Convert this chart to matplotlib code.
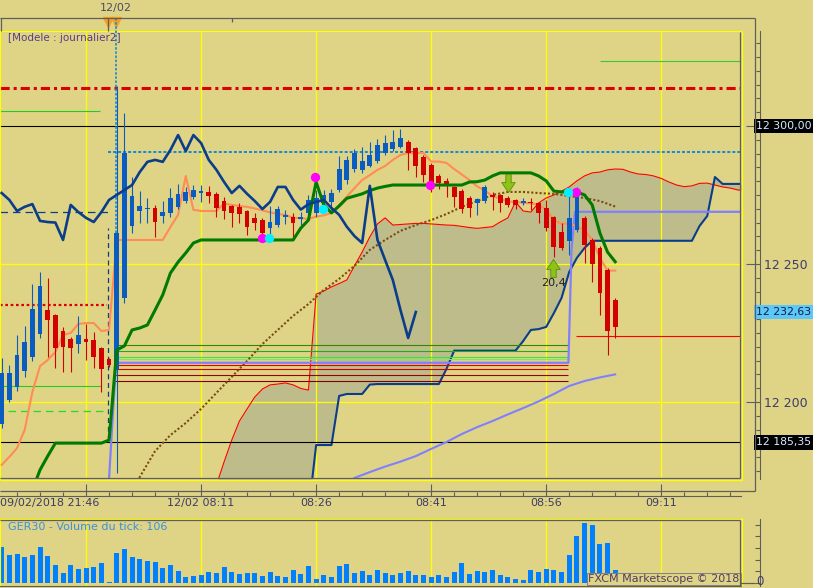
import matplotlib.pyplot as plt
import numpy as np
from matplotlib.path import Path
from matplotlib.ticker import FixedLocator, MultipleLocator, FuncFormatter

plt.rcParams['font.family'] = ['DejaVu Sans']

BG = '#dfd486'
GRAY = '#5e5e5e'
YEL = '#ffff00'
BLUE = '#0a5cc0'
RED = '#d40000'
NAVY = '#0b3d8a'

# ---- data: GER30, 1 minute bars (index 0 = Friday 09/02 21:35 ... 80 = Monday 12/02 09:05)
bars = np.arange(81)
opens = [12192.0, 12200.7, 12205.5, 12211.2, 12216.4, 12224.6, 12233.3, 12231.5, 12225.7, 12222.7,
         12221.1, 12222.7, 12222.5, 12219.5, 12215.5, 12211.6, 12237.8, 12263.9, 12269.3, 12270.0,
         12270.4, 12267.5, 12268.4, 12270.8, 12272.9, 12274.4, 12275.6, 12276.1, 12275.4, 12272.9,
         12271.0, 12270.5, 12269.2, 12266.8, 12265.9, 12263.2, 12264.1, 12266.9, 12267.1, 12266.2,
         12268.4, 12268.4, 12272.0, 12272.6, 12276.8, 12280.4, 12284.3, 12284.1, 12285.5, 12287.3,
         12290.1, 12291.6, 12292.5, 12294.3, 12291.9, 12288.9, 12285.9, 12281.9, 12280.1, 12277.8,
         12276.6, 12273.8, 12272.0, 12272.9, 12275.0, 12275.0, 12273.8, 12273.2, 12272.0, 12272.3,
         12272.0, 12270.2, 12266.9, 12261.7, 12258.4, 12262.3, 12266.6, 12258.7, 12255.7, 12247.8,
         12237.0]
highs = [12215.9, 12213.4, 12224.3, 12227.6, 12242.6, 12247.0, 12244.8, 12232.0, 12227.3, 12223.5,
         12231.2, 12228.2, 12225.4, 12220.0, 12216.0, 12314.5, 12304.7, 12281.6, 12276.6, 12273.8,
         12271.5, 12272.8, 12277.6, 12279.0, 12278.0, 12278.6, 12278.6, 12278.3, 12276.0, 12274.4,
         12271.5, 12272.2, 12269.5, 12268.4, 12266.5, 12271.0, 12271.0, 12269.6, 12268.4, 12268.9,
         12275.0, 12276.8, 12276.8, 12277.1, 12289.1, 12289.1, 12291.6, 12292.5, 12294.3, 12295.2,
         12296.7, 12298.5, 12298.8, 12295.0, 12292.5, 12289.5, 12286.5, 12282.5, 12281.0, 12278.3,
         12277.0, 12274.5, 12274.0, 12278.6, 12276.0, 12275.5, 12274.6, 12273.6, 12273.8, 12273.8,
         12272.5, 12273.2, 12267.5, 12265.0, 12275.6, 12278.0, 12267.5, 12259.5, 12256.5, 12248.5,
         12237.5]
lows = [12190.6, 12200.0, 12204.0, 12209.0, 12215.0, 12223.0, 12216.4, 12212.4, 12211.0, 12211.0,
        12217.6, 12215.2, 12212.2, 12203.5, 12212.7, 12174.3, 12236.0, 12261.2, 12265.0, 12265.0,
        12259.7, 12264.9, 12267.0, 12270.0, 12272.0, 12273.5, 12272.4, 12272.0, 12266.9, 12266.2,
        12263.5, 12265.0, 12260.5, 12262.3, 12259.3, 12260.5, 12263.5, 12264.5, 12259.7, 12264.1,
        12267.5, 12267.0, 12271.0, 12269.6, 12276.0, 12279.0, 12283.5, 12283.0, 12285.0, 12286.5,
        12289.5, 12291.0, 12292.0, 12284.1, 12281.6, 12279.8, 12276.2, 12277.1, 12274.4, 12270.8,
        12268.4, 12266.9, 12267.8, 12272.0, 12269.6, 12269.0, 12270.5, 12269.8, 12271.4, 12269.6,
        12264.7, 12262.0, 12252.6, 12255.0, 12253.3, 12261.5, 12250.3, 12243.6, 12231.5, 12217.0,
        12223.1]
closes = [12210.5, 12210.6, 12217.1, 12221.7, 12233.7, 12242.0, 12229.7, 12219.5, 12219.8, 12219.7,
          12224.3, 12221.7, 12216.4, 12211.8, 12213.4, 12261.3, 12290.3, 12274.6, 12271.0, 12270.3,
          12265.3, 12268.8, 12274.0, 12275.4, 12276.1, 12276.8, 12276.6, 12274.7, 12270.4, 12269.3,
          12268.6, 12268.1, 12263.5, 12264.7, 12261.1, 12265.1, 12269.9, 12267.6, 12264.7, 12266.9,
          12273.2, 12273.8, 12275.0, 12275.8, 12284.4, 12287.7, 12290.1, 12287.3, 12289.5, 12293.1,
          12293.7, 12294.3, 12295.5, 12290.1, 12285.6, 12282.2, 12279.5, 12279.2, 12278.6, 12274.2,
          12269.8, 12270.2, 12273.4, 12278.0, 12274.4, 12272.0, 12271.4, 12271.4, 12272.9, 12272.1,
          12268.4, 12262.9, 12256.1, 12255.7, 12266.6, 12275.6, 12256.9, 12250.0, 12239.6, 12225.8,
          12227.3]
volumes = [310, 241, 250, 222, 241, 310, 233, 155, 86, 155,
           121, 129, 135, 172, 9, 259, 293, 224, 204, 190,
           178, 127, 155, 101, 49, 60, 66, 92, 84, 135,
           92, 78, 84, 84, 58, 92, 58, 49, 109, 78,
           144, 32, 66, 49, 144, 164, 86, 101, 66, 109,
           86, 66, 86, 101, 66, 66, 49, 66, 49, 92,
           172, 78, 101, 92, 109, 66, 49, 32, 23, 109,
           92, 118, 109, 92, 239, 403, 517, 497, 334, 342,
           106]

# Ichimoku lines
tenkan = [12177.2, 12180.1, 12183.3, 12189.9, 12203.6, 12213.0, 12215.2, 12218.1, 12224.3, 12225.0,
          12228.3, 12228.6, 12228.6, 12225.7, 12226.1, 12258.7, 12258.7, 12258.7, 12258.7, 12258.7,
          12258.7, 12258.7, 12263.4, 12267.8, 12281.9, 12269.6, 12269.2, 12269.2, 12269.2, 12271.9,
          12271.4, 12271.0, 12270.7, 12270.1, 12269.4, 12268.7, 12268.1, 12267.8, 12266.7, 12266.6,
          12266.3, 12267.2, 12267.6, 12268.5, 12271.4, 12274.4, 12277.5, 12280.4, 12282.2, 12284.1,
          12285.5, 12287.7, 12289.5, 12290.2, 12290.2, 12290.2, 12287.1, 12287.1, 12286.6, 12284.4,
          12282.4, 12280.4, 12278.1, 12276.6, 12274.6, 12273.7, 12272.6, 12272.5, 12272.1, 12272.0,
          12271.4, 12269.7, 12265.9, 12264.5, 12264.7, 12263.6, 12262.3, 12258.7, 12252.2, 12247.6,
          12247.6]
kijun_bars = np.arange(4, 81)
kijun = [12168.1, 12175.4, 12180.4, 12185.1, 12185.1, 12185.1, 12185.1, 12185.1, 12185.1, 12185.1,
         12186.2, 12218.8, 12220.3, 12226.1, 12226.8, 12227.9, 12233.3, 12238.8, 12246.7, 12250.7,
         12254.0, 12257.6, 12258.7, 12258.7, 12258.7, 12258.7, 12258.7, 12258.7, 12258.7, 12258.7,
         12258.7, 12258.7, 12258.7, 12258.7, 12258.7, 12263.0, 12265.9, 12279.7, 12271.4, 12268.5,
         12271.0, 12273.8, 12274.6, 12275.4, 12276.6, 12277.5, 12278.1, 12278.6, 12278.6, 12278.6,
         12278.6, 12278.6, 12278.6, 12278.6, 12278.6, 12278.6, 12278.6, 12279.7, 12279.8, 12280.4,
         12281.9, 12283.0, 12283.0, 12283.0, 12283.0, 12283.0, 12281.9, 12280.1, 12276.4, 12276.1,
         12276.1, 12276.1, 12275.0, 12271.4, 12261.2, 12254.3, 12250.8]
chikou_bars = np.arange(55)
chikou = [12275.7, 12273.2, 12269.2, 12270.7, 12271.7, 12265.6, 12265.2, 12265.0, 12258.7, 12271.4,
          12268.8, 12266.7, 12265.2, 12268.8, 12273.2, 12275.0, 12276.8, 12278.6, 12283.3, 12287.0,
          12287.7, 12287.0, 12291.3, 12296.7, 12290.9, 12296.7, 12293.8, 12287.7, 12284.1, 12279.7,
          12275.7, 12278.3, 12275.4, 12272.8, 12269.9, 12272.5, 12277.9, 12277.9, 12273.2, 12269.7,
          12271.7, 12272.5, 12273.2, 12270.3, 12267.8, 12263.5, 12260.1, 12257.6, 12278.3, 12258.7,
          12251.4, 12244.2, 12233.3, 12223.2, 12232.6]
senkou_bars = np.arange(28, 98)
senkou_a = [12169.9, 12178.3, 12186.2, 12193.1, 12197.5, 12201.8, 12204.7, 12206.2, 12206.5, 12206.9,
            12206.2, 12204.9, 12204.3, 12239.1, 12240.2, 12241.7, 12242.9, 12244.2, 12249.3, 12254.3,
            12259.8, 12264.5, 12266.7, 12264.1, 12264.3, 12264.5, 12264.7, 12264.7, 12264.5, 12264.3,
            12264.1, 12264.0, 12263.6, 12263.2, 12262.9, 12263.2, 12263.5, 12265.2, 12266.7, 12272.5,
            12269.2, 12268.8, 12272.1, 12273.9, 12275.0, 12276.4, 12277.9, 12280.1, 12281.9, 12283.0,
            12283.3, 12284.1, 12284.4, 12284.3, 12283.3, 12282.6, 12282.4, 12281.9, 12281.0, 12279.7,
            12278.6, 12278.0, 12278.3, 12279.2, 12279.3, 12278.6, 12277.9, 12277.5, 12276.8, 12276.8]
senkou_b = [12160.0, 12160.0, 12160.0, 12160.0, 12160.0, 12160.0, 12160.0, 12160.0, 12160.0, 12160.0,
            12160.0, 12160.0, 12160.0, 12184.4, 12184.4, 12184.4, 12202.2, 12202.9, 12202.9, 12202.9,
            12206.3, 12206.5, 12206.5, 12206.5, 12206.5, 12206.5, 12206.5, 12206.5, 12206.5, 12206.5,
            12212.0, 12218.6, 12218.6, 12218.6, 12218.6, 12218.6, 12218.6, 12218.6, 12218.6, 12218.6,
            12222.1, 12226.1, 12226.4, 12227.2, 12232.2, 12237.7, 12247.1, 12252.2, 12255.8, 12258.4,
            12258.4, 12258.4, 12258.4, 12258.4, 12258.4, 12258.4, 12258.4, 12258.4, 12258.4, 12258.4,
            12258.4, 12258.4, 12258.4, 12263.8, 12267.4, 12281.5, 12279.0, 12279.0, 12279.0, 12279.0]

# moving averages (every second bar)
ma_slow_bars = np.arange(16, 81, 2)
ma_slow = [12163.4, 12172.8, 12182.2, 12188.0, 12192.4, 12197.5, 12203.3, 12209.1, 12214.9, 12221.0,
           12226.1, 12231.2, 12235.5, 12240.6, 12244.6, 12249.3, 12255.1, 12258.7, 12262.0, 12264.1,
           12265.9, 12268.1, 12270.7, 12272.8, 12275.0, 12276.1, 12276.1, 12275.7, 12275.4, 12274.6,
           12273.9, 12272.8, 12270.8]
ma_low_bars = np.arange(46, 81, 2)
ma_low = [12172.5, 12174.6, 12176.6, 12178.4, 12180.4, 12183.0, 12185.5, 12188.4, 12190.9, 12193.1,
          12195.5, 12197.8, 12200.2, 12202.9, 12205.8, 12207.6, 12208.9, 12210.0]
step_bars = [13.95, 14.9, 73.9, 74.3, 74.75, 97.0]
step_vals = [12170.0, 12214.2, 12214.2, 12255.1, 12268.9, 12268.9]

# horizontal levels
week_break = 13.9
friday_levels = [12305.4, 12268.9, 12235.1, 12205.9, 12196.7]
stack_levels = [12220.6, 12218.4, 12216.2, 12215.5, 12213.3, 12211.8, 12209.7, 12207.5]
stack_span = (14.8, 73.9)
pivot_red = 12313.8
box_prices = [12300.00, 12232.63, 12185.35]
dotted_level = 12290.5
upper_green = 12323.5
order_level = 12223.9

# signals
magenta_pts = ([33.9, 40.85, 55.84, 74.9], [12259.3, 12281.6, 12278.6, 12276.0])
cyan_pts = ([34.9, 41.85, 73.9], [12259.3, 12269.9, 12276.0])
sell_arrow = (66.0, 12279.2)
buy_arrow = (71.9, 12248.4, '20,4')

grid_bars = [11, 26, 41, 56, 71, 86]
time_labels = ['09/02/2018 21:46', '12/02 08:11', '08:26', '08:41', '08:56', '09:11']

# ---------------------------------------------------------------
fig = plt.figure(figsize=(8.13, 5.88), dpi=100, facecolor=BG)
ax = fig.add_axes([0, 109 / 588, 741 / 813, 448 / 588], facecolor=BG)
vax = fig.add_axes([0, 2 / 588, 741 / 813, 67 / 588], facecolor=BG)

xlim = (-0.22, 96.4)
ax.set_xlim(*xlim)
ax.set_ylim(12172.1, 12334.4)

# cloud
ax.fill_between(senkou_bars, senkou_a, senkou_b, color='#bebc8b', lw=0, zorder=1)
ax.plot(senkou_bars, senkou_a, color='#ff0000', lw=0.8, zorder=2)
ax.plot(senkou_bars, senkou_b, color=NAVY, lw=1.5, zorder=2)

# levels
ax.axhline(pivot_red, color='#dd0000', lw=2.2, dashes=(3, 1.3, 1, 1.3), zorder=2)
ax.axhline(box_prices[0], color='black', lw=0.8, zorder=2)
ax.axhline(box_prices[2], color='black', lw=0.8, zorder=2)
ax.hlines(friday_levels[0], xlim[0], 12.8, color='#22cc22', lw=0.8)
ax.hlines(friday_levels[1], xlim[0], week_break, color=NAVY, lw=0.9, linestyles=(0, (6, 4)))
ax.hlines(friday_levels[2], xlim[0], 13.7, color='#dd0000', lw=1.6, linestyles=(0, (1.2, 1.2)))
ax.hlines(friday_levels[3], xlim[0], 13.0, color='#22cc22', lw=0.8)
ax.hlines(friday_levels[4], 0.8, week_break, color='#22dd22', lw=0.9, linestyles=(0, (6, 4)))
stack_cols = ['#2e8b00', '#22aa22', '#44dd44', '#77ee55', '#e00000', '#cc0000', '#990000', '#800000']
for lev, col in zip(stack_levels, stack_cols):
    ax.hlines(lev, stack_span[0], stack_span[1], color=col, lw=0.8, zorder=2)
ax.hlines(dotted_level, week_break, xlim[1], color='#1a8ad4', lw=1.45, linestyles=(0, (1.5, 1)), zorder=2)
ax.hlines(upper_green, 78, xlim[1], color='#33cc33', lw=0.8)
ax.hlines(order_level, 74.9, xlim[1], color='#ff0000', lw=0.8)

# moving averages
ax.plot(ma_slow_bars, ma_slow, color='#7a4a10', lw=1.5, linestyle=(0, (1, 1)), zorder=2)
ax.plot(ma_low_bars, ma_low, color='#8080ff', lw=1.5, zorder=2)
ax.plot(step_bars, step_vals, color='#8080ff', lw=1.6, zorder=2)

# week break markers
ax.vlines(week_break, 12186.2, 12263.0, color=NAVY, lw=0.9, linestyles=(0, (4, 3)), zorder=3)
ax.vlines(14.9, 12261.3, 12339.1, color='#1a8ad4', lw=1.2, linestyles=(0, (1.5, 1)), clip_on=False, zorder=3)

ax.plot(bars, tenkan, color='#ff8c55', lw=1.5, zorder=3)

# candles
o = np.array(opens)
c = np.array(closes)
cols = np.where(c >= o, BLUE, RED)
ax.vlines(bars, lows, highs, colors=cols, lw=0.8, zorder=4)
ax.bar(bars, np.maximum(np.abs(c - o), 0.4), bottom=np.minimum(o, c), width=0.62,
       color=cols, zorder=4)

ax.plot(kijun_bars, kijun, color='#007a00', lw=2.2, zorder=5)
ax.plot(chikou_bars, chikou, color=NAVY, lw=1.9, zorder=5)

ax.scatter(*magenta_pts, s=45, color='#ff00ff', zorder=6, lw=0)
ax.scatter(*cyan_pts, s=45, color='#00f0ff', zorder=6, lw=0)

down = Path([(-0.3, 1), (0.3, 1), (0.3, 0.1), (0.75, 0.1), (0, -1), (-0.75, 0.1), (-0.3, 0.1), (-0.3, 1)])
up = Path([(-0.3, -1), (0.3, -1), (0.3, -0.1), (0.75, -0.1), (0, 1), (-0.75, -0.1), (-0.3, -0.1), (-0.3, -1)])
ax.plot(*sell_arrow, marker=down, ms=13, color='#8cc21a', mec='#5a8f00', mew=0.6, zorder=6)
ax.plot(buy_arrow[0], buy_arrow[1], marker=up, ms=13, color='#8cc21a', mec='#5a8f00', mew=0.6, zorder=6)
ax.text(buy_arrow[0], buy_arrow[1] - 5.4, buy_arrow[2], ha='center', va='center', fontsize=8, color='#202020', zorder=6)

# axes styling
ax.grid(which='major', color=YEL, lw=0.9)
for s in ['top', 'left']:
    ax.spines[s].set_color(YEL)
ax.spines['bottom'].set_position(('outward', 12))
ax.spines['right'].set_position(('outward', 14))
ax.spines['bottom'].set_color(GRAY)
ax.spines['right'].set_color(GRAY)
ax.xaxis.set_major_locator(FixedLocator(grid_bars))
ax.xaxis.set_minor_locator(FixedLocator(np.arange(2, 97, 3)))
ax.tick_params(axis='x', which='both', direction='in', color=GRAY, width=0.8, labelbottom=False)
ax.tick_params(axis='x', which='major', length=8.6)
ax.tick_params(axis='x', which='minor', length=3)
ax.yaxis.tick_right()
ax.yaxis.set_major_locator(FixedLocator([12200, 12250, 12300]))
ax.yaxis.set_minor_locator(MultipleLocator(5))
ax.yaxis.set_major_formatter(FuncFormatter(
    lambda v, pos: '' if v >= 12300 else '{:,.0f}'.format(v).replace(',', ' ')))
ax.tick_params(axis='y', which='major', direction='in', length=10, width=0.8, color=GRAY,
               pad=2.5, labelsize=9, labelcolor='#3c3c6e')
ax.tick_params(axis='y', which='minor', direction='in', length=3, width=0.8, color=GRAY)

xt = ax.get_xaxis_transform()
yt = ax.get_yaxis_transform()
for i, (b, lab) in enumerate(zip(grid_bars, time_labels)):
    if i == 0:
        ax.text(0.0, -0.0536, lab, transform=ax.transAxes, ha='left', va='center', fontsize=8, color='#3c3c64')
    else:
        ax.text(b, -0.0536, lab, transform=xt, ha='center', va='center', fontsize=8, color='#3c3c64')

# current / reference price boxes on the price scale
box_style = [('black', '#d8ecff'), ('#5ac8fa', '#1a1a3a'), ('black', '#d8ecff')]
for p, (fc, tc) in zip(box_prices, box_style):
    ax.text(1.0205, p, '{:,.2f}'.format(p).replace(',', ' ').replace('.', ','), transform=yt,
            ha='left', va='center', fontsize=7.8, color=tc,
            bbox=dict(boxstyle='square,pad=0.22', fc=fc, ec='none'))

ax.text(8 / 741, 0.984, '[Modele : journalier2]', transform=ax.transAxes, ha='left', va='center',
        fontsize=7.5, color='#5a3a8a')
ax.text(14.9, 1.051, '12/02', transform=xt, ha='center', va='center', fontsize=8, color='#4a4a6a')
ax.plot([13.9, 14.9], [1.019, 1.019], 'v', ms=6.5, color='#f5a020', transform=xt, clip_on=False)

# volume panel
vax.set_xlim(*xlim)
vax.set_ylim(-28, 549)
vax.bar(bars, volumes, width=0.65, color='#0080ff', zorder=2)
vax.set_xticks(grid_bars)
vax.tick_params(axis='x', length=0, labelbottom=False)
vax.grid(axis='x', color=YEL, lw=0.9)
vax.yaxis.tick_right()
vax.spines['right'].set_position(('outward', 14))
vax.spines['right'].set_color(GRAY)
vax.spines['bottom'].set_color(GRAY)
vax.spines['top'].set_color(YEL)
vax.spines['left'].set_color(YEL)
vax.set_yticks([0, 100, 200, 300, 400, 500])
vax.set_yticklabels([])
vax.tick_params(axis='y', direction='in', length=3.6, width=0.8, color=GRAY)
vax.text(1.0205, 10, '0', transform=vax.get_yaxis_transform(), ha='left', va='center',
         fontsize=8.5, color='#3c3c6e')
vax.text(8 / 741, 0.88, 'GER30 - Volume du tick: 106', transform=vax.transAxes, ha='left', va='center',
         fontsize=8, color='#3d8fe0')
vax.text(0.998, 0.03, 'FXCM Marketscope © 2018', transform=vax.transAxes, ha='right', va='bottom',
         fontsize=8, color='#503c64', zorder=5,
         bbox=dict(boxstyle='square,pad=0.12', fc=BG, ec='#808080', lw=0.7))

# frame decorations (pixel overlay)
ov = fig.add_axes([0, 0, 1, 1])
ov.set_xlim(0, 813)
ov.set_ylim(588, 0)
ov.axis('off')
fk = dict(lw=0.9, solid_capstyle='butt')
ov.plot([0, 755], [18, 18], color=GRAY, **fk)
ov.plot([755, 755], [18, 491], color=GRAY, **fk)
ov.plot([0, 755], [491, 491], color=GRAY, **fk)
ov.plot([0.5, 0.5], [18, 31], color=GRAY, **fk)
ov.plot([231.7, 231.7], [18, 22], color=GRAY, **fk)
ov.plot([108, 108], [18, 31], color=GRAY, **fk)
ov.plot([741.5, 741.5], [31, 479.5], color=YEL, **fk)
ov.plot([0, 741.5], [479.5, 479.5], color=YEL, **fk)
ov.plot([740, 740], [31.5, 478], color=GRAY, **fk)
ov.plot([0, 740], [478, 478], color=GRAY, **fk)
ov.plot([742, 742], [518, 586], color=YEL, **fk)
ov.plot([0, 740], [519.5, 519.5], color=GRAY, **fk)
ov.plot([740, 740], [519.5, 586], color=GRAY, **fk)
ov.plot([740, 755], [582.7, 582.7], color=GRAY, **fk)

fig.savefig('out.png', dpi=100, facecolor=BG)
